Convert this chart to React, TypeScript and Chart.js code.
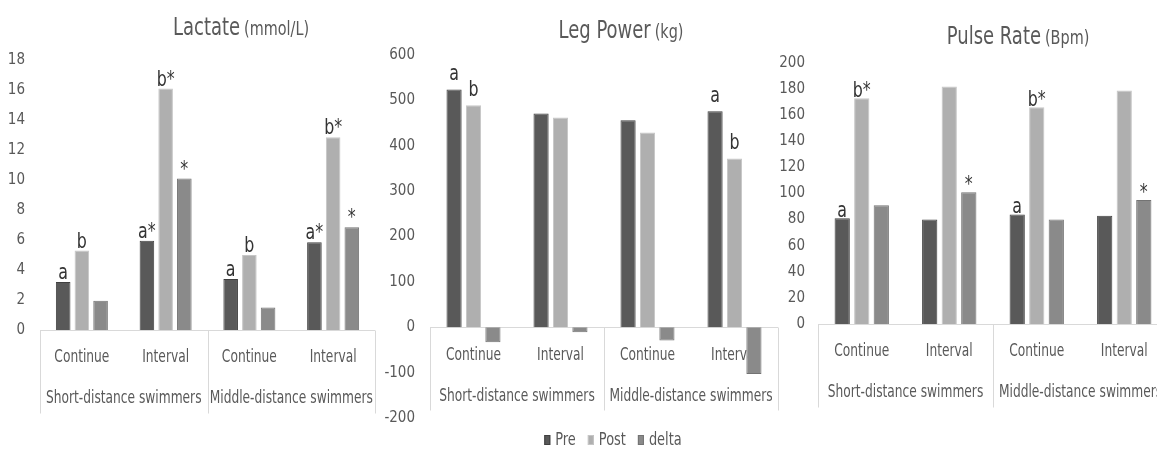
import React, { useEffect, useRef } from 'react';
import { Chart, registerables } from 'chart.js';

Chart.register(...registerables);

const FONT = '"Liberation Sans Narrow", "DejaVu Sans Condensed", "Liberation Sans", sans-serif';

// ---------- data ----------
const categories = ['Continue', 'Interval', 'Continue', 'Interval'];
const groups = ['Short-distance swimmers', 'Middle-distance swimmers'];
const seriesNames = ['Pre', 'Post', 'delta'];

const lactatePre = [3.2, 5.95, 3.4, 5.85];
const lactatePost = [5.3, 16.1, 5.0, 12.85];
const lactateDelta = [1.95, 10.1, 1.5, 6.85];
const lactateAnnPre = ['a', 'a*', 'a', 'a*'];
const lactateAnnPost = ['b', 'b*', 'b', 'b*'];
const lactateAnnDelta = ['', '*', '', '*'];

const legPre = [524, 471, 456, 476];
const legPost = [489, 462, 429, 372];
const legDelta = [-33, -11, -29, -103];
const legAnnPre = ['a', '', '', 'a'];
const legAnnPost = ['b', '', '', 'b'];
const legAnnDelta = ['', '', '', ''];

const pulsePre = [81, 80, 84, 83];
const pulsePost = [173, 182, 166, 179];
const pulseDelta = [91, 101, 80, 95];
const pulseAnnPre = ['a', '', 'a', ''];
const pulseAnnPost = ['b*', '', 'b*', ''];
const pulseAnnDelta = ['', '*', '', '*'];

const lactateAxis = { min: 0, max: 18, step: 2 };
const legAxis = { min: -200, max: 600, step: 100 };
const pulseAxis = { min: 0, max: 200, step: 20 };

const FILLS = ['#595959', '#afafaf', '#8a8a8a'];
const LINES = ['#404040', '#c6c6c6', '#737373'];

const SX = 0.8; // horizontal condensing of canvas-drawn text

type Panel = {
  title: string;
  unit: string;
  pre: number[];
  post: number[];
  delta: number[];
  ann: string[][];
  axis: { min: number; max: number; step: number };
  left: number;
  width: number;
  yWidth: number;
  tickPad: number;
  padRight: number;
  padTop: number;
  padBottom: number;
  titleCx: number;
  titleBase: number;
  annGap: number;
  legend: boolean;
  legendCx: number;
};

const panels: Panel[] = [
  {
    title: 'Lactate', unit: '(mmol/L)',
    pre: lactatePre, post: lactatePost, delta: lactateDelta,
    ann: [lactateAnnPre, lactateAnnPost, lactateAnnDelta],
    axis: lactateAxis,
    left: 0, width: 380, yWidth: 40, tickPad: 15, padRight: 5, padTop: 60, padBottom: 119,
    titleCx: 241, titleBase: 35, annGap: 3, legend: false, legendCx: 0,
  },
  {
    title: 'Leg Power', unit: '(kg)',
    pre: legPre, post: legPost, delta: legDelta,
    ann: [legAnnPre, legAnnPost, legAnnDelta],
    axis: legAxis,
    left: 380, width: 402, yWidth: 50, tickPad: 15, padRight: 4, padTop: 55, padBottom: 31,
    titleCx: 241, titleBase: 38, annGap: 9, legend: true, legendCx: 233,
  },
  {
    title: 'Pulse Rate', unit: '(Bpm)',
    pre: pulsePre, post: pulsePost, delta: pulseDelta,
    ann: [pulseAnnPre, pulseAnnPost, pulseAnnDelta],
    axis: pulseAxis,
    left: 778, width: 400, yWidth: 40, tickPad: 13, padRight: 10, padTop: 63, padBottom: 125,
    titleCx: 240, titleBase: 44, annGap: 1, legend: false, legendCx: 0,
  },
];

function drawText(ctx: CanvasRenderingContext2D, t: string, x: number, y: number, size: number, align: CanvasTextAlign) {
  ctx.save();
  ctx.font = `${size}px ${FONT}`;
  ctx.textAlign = align;
  ctx.translate(x, y);
  ctx.scale(SX, 1);
  ctx.fillText(t, 0, 0);
  ctx.restore();
}

function textWidth(ctx: CanvasRenderingContext2D, t: string, size: number) {
  ctx.save();
  ctx.font = `${size}px ${FONT}`;
  const w = ctx.measureText(t).width * SX;
  ctx.restore();
  return w;
}

function decoPlugin(p: Panel) {
  return {
    id: 'deco',
    beforeDatasetsDraw(chart: any) {
      const { ctx, chartArea } = chart;
      const xs = chart.scales.x;
      const ys = chart.scales.y;
      const zero = ys.getPixelForValue(0);
      const mid = (xs.getPixelForValue(1) + xs.getPixelForValue(2)) / 2;
      ctx.save();
      ctx.strokeStyle = '#d9d9d9';
      ctx.lineWidth = 1;
      ctx.beginPath();
      const zy = Math.round(zero) + 0.5;
      ctx.moveTo(chartArea.left, zy);
      ctx.lineTo(chartArea.right, zy);
      [chartArea.left, mid, chartArea.right].forEach((px) => {
        const lx = Math.round(px) + 0.5;
        ctx.moveTo(lx, zy);
        ctx.lineTo(lx, zy + 83);
      });
      ctx.stroke();
      ctx.fillStyle = '#595959';
      ctx.textBaseline = 'middle';
      categories.forEach((c, i) => drawText(ctx, c, xs.getPixelForValue(i), zero + 28, 17, 'center'));
      groups.forEach((g, gi) => {
        const cx = gi === 0 ? (chartArea.left + mid) / 2 : (mid + chartArea.right) / 2;
        drawText(ctx, g, cx, zero + 69, 17, 'center');
      });
      ctx.restore();
    },
    afterDatasetsDraw(chart: any) {
      const { ctx } = chart;
      ctx.save();
      // annotations
      ctx.fillStyle = '#333333';
      ctx.textBaseline = 'alphabetic';
      chart.data.datasets.forEach((ds: any, di: number) => {
        const meta = chart.getDatasetMeta(di);
        (ds.ann as string[]).forEach((t, j) => {
          if (!t) return;
          const el = meta.data[j];
          drawText(ctx, t, el.x, el.y - p.annGap, 22, 'center');
        });
      });
      // title
      ctx.fillStyle = '#595959';
      const w1 = textWidth(ctx, p.title, 25);
      const w2 = textWidth(ctx, p.unit, 20);
      const gap = 4;
      const start = p.titleCx - (w1 + gap + w2) / 2;
      drawText(ctx, p.title, start, p.titleBase, 25, 'left');
      drawText(ctx, p.unit, start + w1 + gap, p.titleBase, 20, 'left');
      // legend
      if (p.legend) {
        ctx.textBaseline = 'middle';
        const box = 6;
        const boxGap = 5;
        const itemGap = 12;
        const fs = 18;
        const widths = chart.data.datasets.map((d: any) => box + boxGap + textWidth(ctx, d.label, fs));
        const total = widths.reduce((a: number, b: number) => a + b, 0) + itemGap * (widths.length - 1);
        let x = p.legendCx - total / 2;
        const cy = 440;
        chart.data.datasets.forEach((d: any, i: number) => {
          ctx.fillStyle = d.backgroundColor;
          ctx.fillRect(x, cy - 5, box, 10);
          ctx.strokeStyle = d.borderColor;
          ctx.lineWidth = 1;
          ctx.strokeRect(x + 0.5, cy - 4.5, box - 1, 9);
          ctx.fillStyle = '#595959';
          drawText(ctx, d.label, x + box + boxGap, cy, fs, 'left');
          x += widths[i] + itemGap;
        });
      }
      ctx.restore();
    },
  };
}

function PanelChart({ p }: { p: Panel }) {
  const ref = useRef<HTMLCanvasElement | null>(null);
  useEffect(() => {
    if (!ref.current) return;
    const values = [p.pre, p.post, p.delta];
    const chart = new Chart(ref.current, {
      type: 'bar',
      data: {
        labels: categories,
        datasets: values.map((v, i) => ({
          label: seriesNames[i],
          data: v,
          backgroundColor: FILLS[i],
          borderColor: LINES[i],
          borderWidth: 1,
          ann: p.ann[i],
        })) as any,
      },
      options: {
        animation: false,
        responsive: false,
        maintainAspectRatio: false,
        devicePixelRatio: 1,
        layout: { padding: { left: 0, right: p.padRight, top: p.padTop, bottom: p.padBottom } },
        datasets: { bar: { categoryPercentage: 0.67, barPercentage: 0.78 } },
        scales: {
          x: { display: false },
          y: {
            min: p.axis.min,
            max: p.axis.max,
            ticks: {
              stepSize: p.axis.step,
              padding: p.tickPad,
              color: '#595959',
              font: { family: FONT, size: 15 },
            },
            grid: { display: false, drawTicks: false },
            border: { display: false },
            afterFit: (s: any) => {
              s.width = p.yWidth;
            },
          },
        },
        plugins: {
          legend: { display: false },
          tooltip: { enabled: false },
          title: { display: false },
        },
      } as any,
      plugins: [decoPlugin(p)],
    });
    return () => chart.destroy();
  }, [p]);
  return (
    <canvas
      ref={ref}
      width={p.width}
      height={449}
      style={{ position: 'absolute', left: p.left, top: 0, width: p.width, height: 449 }}
    />
  );
}

export default function App() {
  return (
    <div
      style={{
        position: 'absolute',
        left: 0,
        top: 0,
        width: 1157,
        height: 449,
        overflow: 'hidden',
        background: '#ffffff',
      }}
    >
      {panels.map((p, i) => (
        <PanelChart key={i} p={p} />
      ))}
    </div>
  );
}
